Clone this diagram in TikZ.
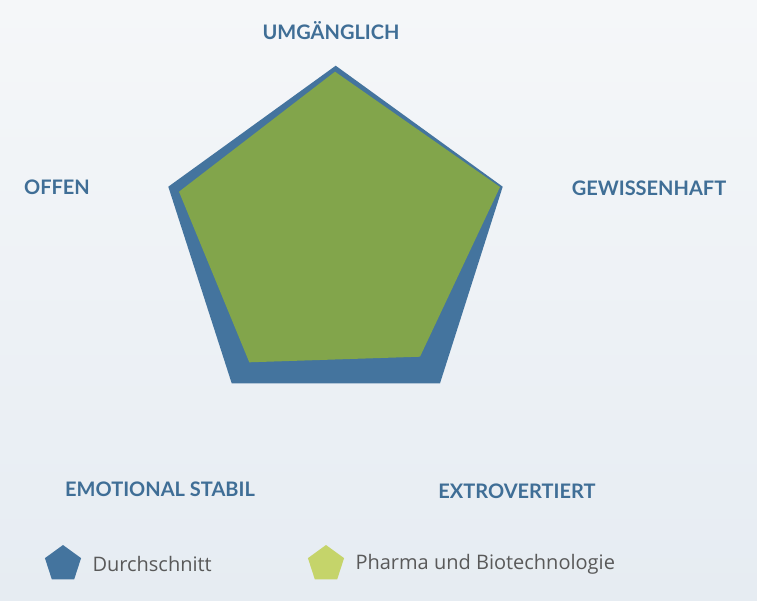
\documentclass[tikz,border=0pt]{standalone}
\usepackage{fontspec}
\setmainfont{Lato}
\newfontfamily\legfont{Open Sans}
\usetikzlibrary{shapes.geometric}
\definecolor{bluep}{HTML}{44749E}
\definecolor{greenp}{HTML}{82A54B}
\definecolor{lightg}{HTML}{C5D46A}
\definecolor{labc}{HTML}{3F6E96}
\definecolor{bgtop}{HTML}{F5F7F9}
\definecolor{bgbot}{HTML}{E6ECF2}
\tikzset{
  lab/.style={font=\bfseries\fontsize{20}{24}\selectfont, text=labc},
  leg/.style={font=\legfont\fontsize{20}{24}\selectfont, text=black!65, anchor=west},
  legmark/.style={regular polygon, regular polygon sides=5, minimum size=38pt, inner sep=0pt}
}
\begin{document}
\begin{tikzpicture}[x=1pt,y=-1pt]
\shade[top color=bgtop, bottom color=bgbot] (0,0) rectangle (757,600);
\useasboundingbox (0,0) rectangle (757,600);
\fill[bluep] (335.7,65.7) -- (502.7,186.7) -- (440,383.3) -- (231.7,383.3) -- (168.3,186.7) -- cycle;
\fill[greenp] (335,71.7) -- (500,187) -- (420,356.7) -- (249.3,362.3) -- (179,191.7) -- cycle;
\node[lab] (u) at (331,31) {UMGÄNGLICH};
\node[lab] (o) at (57,187) {OFFEN};
\node[lab] (g) at (649,188) {GEWISSENHAFT};
\node[lab] (e) at (160,489) {EMOTIONAL STABIL};
\node[lab] (x) at (517,491) {EXTROVERTIERT};
\node[legmark, fill=bluep] (m1) at (63,564) {};
\node[leg] (t1) at (89,564) {Durchschnitt};
\node[legmark, fill=lightg] (m2) at (326,564) {};
\node[leg] (t2) at (352,564) {Pharma und Biotechnologie};
\end{tikzpicture}
\end{document}
